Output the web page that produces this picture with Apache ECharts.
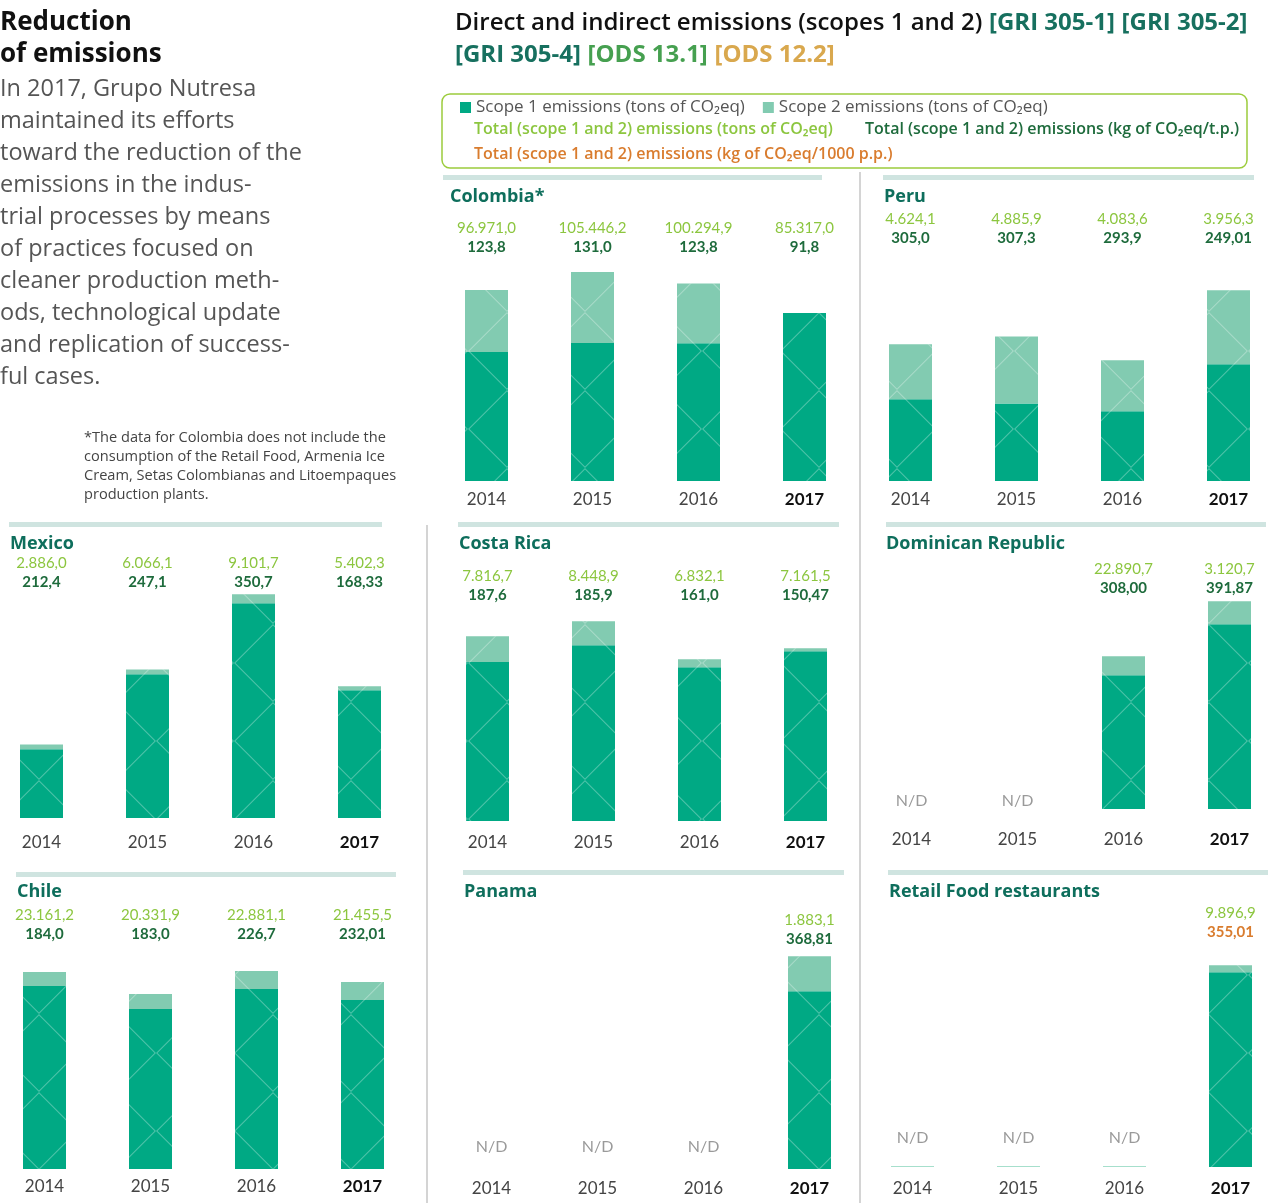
<!DOCTYPE html>
<html><head><meta charset="utf-8">
<script src="https://cdn.jsdelivr.net/npm/echarts@6/dist/echarts.min.js"></script>
<style>html,body{margin:0;padding:0;background:#fff}#c{width:1277px;height:1203px}</style>
</head><body><div id="c"></div>
<script>
// ---------- DATA ----------
const years = ['2014', '2015', '2016', '2017'];
const panelNames = ['Colombia*', 'Peru', 'Mexico', 'Costa Rica', 'Dominican Republic', 'Chile', 'Panama', 'Retail Food restaurants'];
// Scope 1 / Scope 2 emissions (tons CO2eq)
const colombiaScope1 = [65500, 70100, 69900, 85300];
const colombiaScope2 = [31500, 36000, 30400, 0];
const peruScope1 = [2765, 2624, 2358, 3950];
const peruScope2 = [1859, 2262, 1726, 2500];
const mexicoScope1 = [2800, 5860, 8760, 5210];
const mexicoScope2 = [200, 200, 370, 165];
const costaRicaScope1 = [6730, 7430, 6500, 7180];
const costaRicaScope2 = [1090, 1015, 340, 130];
const dominicanScope1 = [null, null, 2005, 2770];
const dominicanScope2 = [null, null, 285, 345];
const chileScope1 = [21230, 18560, 20880, 19600];
const chileScope2 = [1620, 1740, 2090, 2090];
const panamaScope1 = [null, null, null, 1573];
const panamaScope2 = [null, null, null, 310];
const retailScope1 = [null, null, null, 9553];
const retailScope2 = [null, null, null, 344];
// years without data (N/D)
const colombiaND = [null, null, null, null];
const peruND = [null, null, null, null];
const mexicoND = [null, null, null, null];
const costaRicaND = [null, null, null, null];
const dominicanND = [0, 0, null, null];
const chileND = [null, null, null, null];
const panamaND = [0, 0, 0, null];
const retailND = [49, 49, 49, null];
// label texts: totals (tons CO2eq) and intensity
const colombiaTotals = ['96.971,0', '105.446,2', '100.294,9', '85.317,0'];
const colombiaIntensity = ['123,8', '131,0', '123,8', '91,8'];
const peruTotals = ['4.624,1', '4.885,9', '4.083,6', '3.956,3'];
const peruIntensity = ['305,0', '307,3', '293,9', '249,01'];
const mexicoTotals = ['2.886,0', '6.066,1', '9.101,7', '5.402,3'];
const mexicoIntensity = ['212,4', '247,1', '350,7', '168,33'];
const costaRicaTotals = ['7.816,7', '8.448,9', '6.832,1', '7.161,5'];
const costaRicaIntensity = ['187,6', '185,9', '161,0', '150,47'];
const dominicanTotals = ['', '', '22.890,7', '3.120,7'];
const dominicanIntensity = ['', '', '308,00', '391,87'];
const chileTotals = ['23.161,2', '20.331,9', '22.881,1', '21.455,5'];
const chileIntensity = ['184,0', '183,0', '226,7', '232,01'];
const panamaTotals = ['', '', '', '1.883,1'];
const panamaIntensity = ['', '', '', '368,81'];
const retailTotals = ['', '', '', '9.896,9'];
const retailIntensity = ['', '', '', '355,01'];

const scope1Name = 'Scope 1 emissions (tons of CO₂eq)';
const scope2Name = 'Scope 2 emissions (tons of CO₂eq)';

// ---------- LAYOUT ----------
const C1 = '#00a984', C2 = '#82cbb1', LIME = '#8cc63f', DKG = '#1e6b3c', ORG = '#d97c2e', TEAL = '#0e6e5c', HDR = '#cfe4e0';
const FONT = '"Open Sans", Lato, sans-serif';
const NUMFONT = 'Lato, "Open Sans", sans-serif';

const panels = [
  {s1: colombiaScope1, s2: colombiaScope2, nd: colombiaND, tot: colombiaTotals, int: colombiaIntensity, intColor: DKG,
   left: 486.5, top: 257.5, base: 481, yMax: 113470, ym: 10, ndd: 0, tx: 450, ty: 196, hx: 443, hy: 175, hw: 379},
  {s1: peruScope1, s2: peruScope2, nd: peruND, tot: peruTotals, int: peruIntensity, intColor: DKG,
   left: 910.5, top: 248.5, base: 481, yMax: 7865, ym: 10, ndd: 0, tx: 884, ty: 196, hx: 883, hy: 175, hw: 371},
  {s1: mexicoScope1, s2: mexicoScope2, nd: mexicoND, tot: mexicoTotals, int: mexicoIntensity, intColor: DKG,
   left: 41.5, top: 592.5, base: 818, yMax: 9200, ym: 16, ndd: 0, tx: 10, ty: 543, hx: 9, hy: 522, hw: 373},
  {s1: costaRicaScope1, s2: costaRicaScope2, nd: costaRicaND, tot: costaRicaTotals, int: costaRicaIntensity, intColor: DKG,
   left: 487.5, top: 605.5, base: 821, yMax: 9116, ym: 13, ndd: 0, tx: 459, ty: 543, hx: 458, hy: 522, hw: 381},
  {s1: dominicanScope1, s2: dominicanScope2, nd: dominicanND, tot: dominicanTotals, int: dominicanIntensity, intColor: DKG,
   left: 911.5, top: 598.5, base: 809, yMax: 3158, ym: 22, ndd: 0, tx: 886, ty: 543, hx: 886, hy: 522, hw: 380},
  {s1: chileScope1, s2: chileScope2, nd: chileND, tot: chileTotals, int: chileIntensity, intColor: DKG,
   left: 44.5, top: 944.5, base: 1169, yMax: 26042, ym: 9, ndd: 0, tx: 17, ty: 891, hx: 16, hy: 872, hw: 380},
  {s1: panamaScope1, s2: panamaScope2, nd: panamaND, tot: panamaTotals, int: panamaIntensity, intColor: DKG,
   left: 491.5, top: 949.5, base: 1169, yMax: 1943, ym: 11, ndd: 14, tx: 464, ty: 891, hx: 463, hy: 870, hw: 381},
  {s1: retailScope1, s2: retailScope2, nd: retailND, tot: retailTotals, int: retailIntensity, intColor: ORG, ndColor: '#a6dfcc',
   left: 912.5, top: 942.5, base: 1167, yMax: 11016, ym: 13, ndd: 20, tx: 889, ty: 891, hx: 888, hy: 870, hw: 380}
];

const decal = {
  symbol: 'path://M0,50L50,0L100,50L50,100Z M2,50L50,98L98,50L50,2Z',
  symbolSize: 1, symbolKeepAspect: false,
  color: 'rgba(255,255,255,0.3)',
  dashArrayX: [78, 0], dashArrayY: [78, 0], rotation: 0
};

const grid = [], xAxis = [], yAxis = [], series = [], graphic = [];
panels.forEach((p, i) => {
  grid.push({left: p.left, top: p.top, width: 318, height: p.base - p.top});
  xAxis.push({
    type: 'category', gridIndex: i, data: years, position: 'bottom', boundaryGap: false,
    axisLine: {show: false}, axisTick: {show: false}, splitLine: {show: false},
    axisLabel: {interval: 0, margin: p.ym, fontFamily: NUMFONT,
      formatter: (v, idx) => idx === 3 ? '{b|' + v + '}' : '{a|' + v + '}',
      rich: {a: {fontSize: 17, color: '#444', fontFamily: NUMFONT}, b: {fontSize: 17, fontWeight: 'bold', color: '#111', fontFamily: NUMFONT}}}
  });
  xAxis.push({
    type: 'category', gridIndex: i, data: years, position: 'top', boundaryGap: false,
    axisLine: {show: false}, axisTick: {show: false}, splitLine: {show: false},
    axisLabel: {interval: 0, margin: 1, fontFamily: NUMFONT,
      formatter: (v, idx) => p.tot[idx] ? '{a|' + p.tot[idx] + '}\n{b|' + p.int[idx] + '}' : '',
      rich: {a: {fontSize: 15, color: LIME, lineHeight: 19, fontFamily: NUMFONT},
             b: {fontSize: 15, fontWeight: 'bold', color: p.intColor, lineHeight: 19, fontFamily: NUMFONT}}}
  });
  yAxis.push({type: 'value', gridIndex: i, min: 0, max: p.yMax, show: false, splitLine: {show: false}});
  const common = {type: 'bar', xAxisIndex: 2 * i, yAxisIndex: i, stack: 'st' + i, barWidth: 43, silent: true, clip: false};
  series.push(Object.assign({}, common, {name: scope1Name, data: p.s1, itemStyle: {color: C1, decal: decal}}));
  series.push(Object.assign({}, common, {name: scope2Name, data: p.s2, itemStyle: {color: C2, decal: decal}}));
  series.push(Object.assign({}, common, {name: 'N/D', data: p.nd,
    itemStyle: {color: p.ndColor || 'rgba(0,0,0,0)'},
    label: {show: true, position: 'top', distance: p.ndd, formatter: 'N/D', color: '#9a9a9a', fontSize: 16, fontFamily: NUMFONT}}));
  graphic.push({type: 'rect', shape: {x: p.hx, y: p.hy, width: p.hw, height: 5}, style: {fill: HDR}, silent: true});
  graphic.push({type: 'text', x: p.tx, y: p.ty + 1, style: {text: panelNames[i], font: 'bold 18px ' + FONT, fill: TEAL, verticalAlign: 'middle'}});
});

// separators
graphic.push({type: 'rect', shape: {x: 859, y: 172, width: 2, height: 1031}, style: {fill: '#d4d4d4'}});
graphic.push({type: 'rect', shape: {x: 426, y: 525, width: 2, height: 678}, style: {fill: '#d4d4d4'}});

// left text
graphic.push({type: 'text', x: 0, y: 23, style: {text: 'Reduction', font: 'bold 26px ' + FONT, fill: '#111', verticalAlign: 'middle'}});
graphic.push({type: 'text', x: 0, y: 55, style: {text: 'of emissions', font: 'bold 26px ' + FONT, fill: '#111', verticalAlign: 'middle'}});
const para = ['In 2017, Grupo Nutresa', 'maintained its efforts', 'toward the reduction of the', 'emissions in the indus-',
  'trial processes by means', 'of practices focused on', 'cleaner production meth-', 'ods, technological update',
  'and replication of success-', 'ful cases.'];
para.forEach((t, k) => graphic.push({type: 'text', x: 0, y: 89 + 32 * k, style: {text: t, font: '23.5px ' + FONT, fill: '#555', verticalAlign: 'middle'}}));
const note = ['*The data for Colombia does not include the', 'consumption of the Retail Food, Armenia Ice',
  'Cream, Setas Colombianas and Litoempaques', 'production plants.'];
note.forEach((t, k) => graphic.push({type: 'text', x: 84, y: 438 + 19 * k, style: {text: t, font: '14.6px ' + FONT, fill: '#444', verticalAlign: 'middle'}}));

// header title
graphic.push({type: 'text', x: 455, y: 23, style: {
  text: '{a|Direct and indirect emissions (scopes 1 and 2)}  {b|[GRI 305-1]}  {b|[GRI 305-2]}',
  verticalAlign: 'middle',
  rich: {a: {font: '600 24px ' + FONT, fill: '#111'}, b: {font: 'bold 24px ' + FONT, fill: '#17705f'}}}});
graphic.push({type: 'text', x: 455, y: 55, style: {
  text: '{b|[GRI 305-4]}  {c|[ODS 13.1]}  {d|[ODS 12.2]}',
  verticalAlign: 'middle',
  rich: {b: {font: 'bold 24px ' + FONT, fill: '#17705f'}, c: {font: 'bold 24px ' + FONT, fill: '#46a050'}, d: {font: 'bold 24px ' + FONT, fill: '#d9a84e'}}}});

// legend box + text legend lines
graphic.push({type: 'rect', shape: {x: 442, y: 94, width: 805, height: 74, r: 8}, style: {fill: 'none', stroke: '#9ccc3c', lineWidth: 1.5}});
graphic.push({type: 'text', x: 474, y: 129, style: {text: 'Total (scope 1 and 2) emissions (tons of CO₂eq)', font: '600 16px ' + FONT, fill: LIME, verticalAlign: 'middle'}});
graphic.push({type: 'text', x: 865, y: 129, style: {text: 'Total (scope 1 and 2) emissions (kg of CO₂eq/t.p.)', font: '600 16px ' + FONT, fill: DKG, verticalAlign: 'middle'}});
graphic.push({type: 'text', x: 474, y: 154, style: {text: 'Total (scope 1 and 2) emissions (kg of CO₂eq/1000 p.p.)', font: '600 16px ' + FONT, fill: ORG, verticalAlign: 'middle'}});

const chart = echarts.init(document.getElementById('c'), null, {renderer: 'canvas'});
chart.setOption({
  animation: false,
  textStyle: {fontFamily: FONT},
  legend: {data: [scope1Name, scope2Name], left: 455, top: 94, itemWidth: 11, itemHeight: 11, icon: 'rect', itemGap: 18,
    selectedMode: false, textStyle: {fontSize: 17, color: '#555', fontFamily: FONT}},
  grid, xAxis, yAxis, series, graphic
});
</script></body></html>
